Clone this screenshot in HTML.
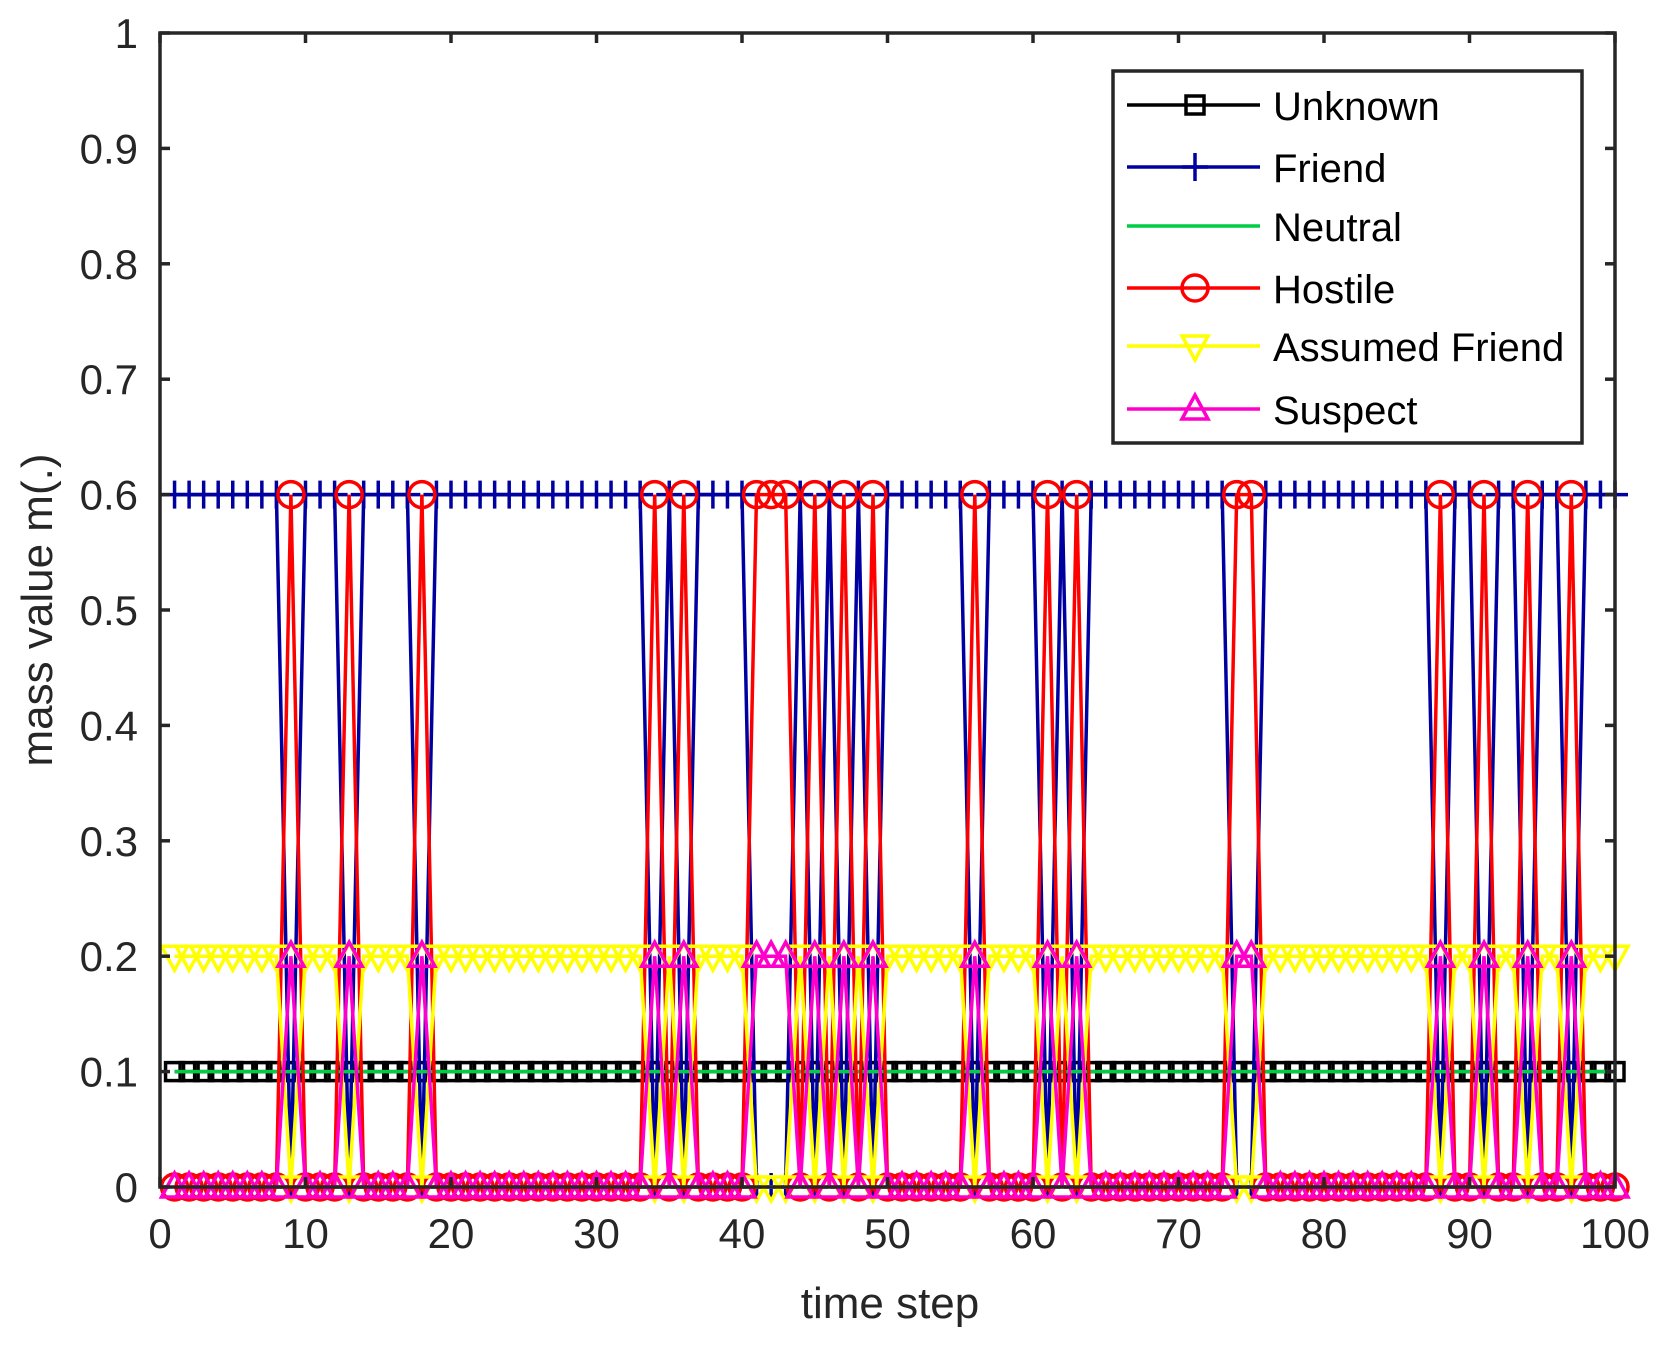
<!DOCTYPE html>
<html><head><meta charset="utf-8"><style>
html,body{margin:0;padding:0;background:#fff;}
svg{display:block;}
text{font-family:"Liberation Sans",Arial,sans-serif;fill:#262626;}
</style></head><body>
<svg id="s" width="1667" height="1345" viewBox="0 0 1667 1345" xmlns="http://www.w3.org/2000/svg">
<rect width="1667" height="1345" fill="#fff"/>
<g id="data"></g>
<g id="axes" fill="none" stroke="#262626" stroke-width="3.5">
<rect x="160" y="33" width="1455" height="1154"/>
</g>
<g id="lab"></g>
<g id="leg"></g>
</svg>
<script>
var NS="http://www.w3.org/2000/svg";
function el(p,t,a,txt){var e=document.createElementNS(NS,t);for(var k in a)e.setAttribute(k,a[k]);if(txt!==undefined)e.textContent=txt;p.appendChild(e);return e;}
var X0=160,X1=1615,Y0=1187,Y1=33;
function X(t){return X0+(X1-X0)*t/100;}
function Y(v){return Y0-(Y0-Y1)*v;}
var axes=document.getElementById('axes'),lab=document.getElementById('lab'),data=document.getElementById('data'),leg=document.getElementById('leg');
var tl=10;
for(var i=0;i<=10;i++){
 var x=X(i*10);
 el(axes,'line',{x1:x,y1:Y0,x2:x,y2:Y0-tl});el(axes,'line',{x1:x,y1:Y1,x2:x,y2:Y1+tl});
 el(lab,'text',{x:x,y:1248,'text-anchor':'middle','font-size':42},String(i*10));
 var y=Y(i/10);
 el(axes,'line',{x1:X0,y1:y,x2:X0+tl,y2:y});el(axes,'line',{x1:X1,y1:y,x2:X1-tl,y2:y});
 el(lab,'text',{x:138,y:y+15,'text-anchor':'end','font-size':42},i==0?'0':(i==10?'1':(i/10).toFixed(1)));
}
el(lab,'text',{x:890,y:1318,'text-anchor':'middle','font-size':44},'time step');
el(lab,'text',{x:0,y:0,'text-anchor':'middle','font-size':44,transform:'translate(52,610) rotate(-90)'},'mass value m(.)');
var spikes=[9,13,18,34,36,41,42,43,45,47,49,56,61,63,74,75,88,91,94,97];
var S={};spikes.forEach(function(s){S[s]=1;});
var W=3.5;
var series=[
 {c:'#000000',m:'sq',f:function(t){return 0.1;}},
 {c:'#0000a0',m:'plus',f:function(t){return S[t]?0:0.6;}},
 {c:'#00cc44',m:null,f:function(t){return 0.1;}},
 {c:'#ff0000',m:'circ',f:function(t){return S[t]?0.6:0;}},
 {c:'#ffff00',m:'dtri',f:function(t){return S[t]?0:0.2;}},
 {c:'#ff00cc',m:'utri',f:function(t){return S[t]?0.2:0;}}
];
function marker(g,m,x,y,c){
 if(m=='sq')el(g,'rect',{x:x-9,y:y-9,width:18,height:18,fill:'none',stroke:c,'stroke-width':W});
 else if(m=='plus'){el(g,'line',{x1:x-13,y1:y,x2:x+13,y2:y,stroke:c,'stroke-width':W});el(g,'line',{x1:x,y1:y-14,x2:x,y2:y+14,stroke:c,'stroke-width':W});}
 else if(m=='circ')el(g,'circle',{cx:x,cy:y,r:13,fill:'none',stroke:c,'stroke-width':W});
 else if(m=='dtri')el(g,'polygon',{points:(x-13)+','+(y-10)+' '+(x+13)+','+(y-10)+' '+x+','+(y+14),fill:'none',stroke:c,'stroke-width':W});
 else if(m=='utri')el(g,'polygon',{points:(x-13)+','+(y+10)+' '+(x+13)+','+(y+10)+' '+x+','+(y-14),fill:'none',stroke:c,'stroke-width':W});
}
series.forEach(function(s){
 var pts=[];for(var t=1;t<=100;t++)pts.push(X(t).toFixed(1)+','+Y(s.f(t)).toFixed(1));
 el(data,'polyline',{points:pts.join(' '),fill:'none',stroke:s.c,'stroke-width':W});
 if(s.m)for(var t=1;t<=100;t++)marker(data,s.m,X(t),Y(s.f(t)),s.c);
});
el(leg,'rect',{x:1113,y:71,width:469,height:372,fill:'#fff',stroke:'#262626','stroke-width':3.5});
var names=['Unknown','Friend','Neutral','Hostile','Assumed Friend','Suspect'];
var rows=[105,167,226,288,346,409];
series.forEach(function(s,i){
 var y=rows[i];
 el(leg,'line',{x1:1127,y1:y,x2:1260,y2:y,stroke:s.c,'stroke-width':W});
 if(s.m)marker(leg,s.m,1195,y,s.c);
 el(leg,'text',{x:1273,y:y+15,'font-size':40,style:'fill:#000'},names[i]);
});
</script>
</body></html>
